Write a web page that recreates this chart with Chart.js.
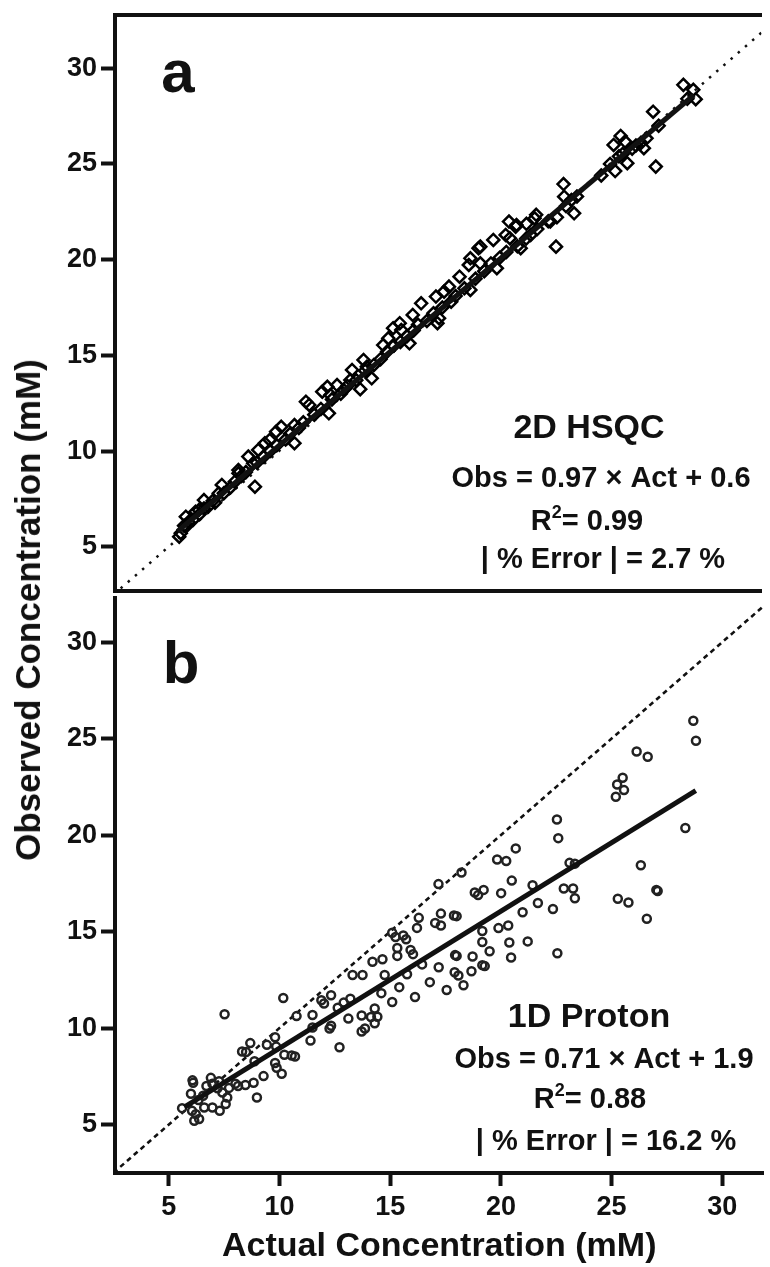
<!DOCTYPE html>
<html>
<head>
<meta charset="utf-8">
<script src="https://cdn.jsdelivr.net/npm/chart.js@4.4.1/dist/chart.umd.min.js"></script>
<style>
  html, body { margin: 0; padding: 0; background: #fff; overflow: hidden; }
  #wrap { position: relative; width: 770px; height: 1267px; }
  #chartA { position: absolute; left: 0; top: 0; }
  #chartB { position: absolute; left: 0; top: 591px; }
  #ytitle {
    position: absolute; left: 28px; top: 610px;
    transform: translate(-50%, -50%) rotate(-90deg);
    white-space: nowrap;
    font: bold 35px "Liberation Sans", Arial, sans-serif;
    color: #111;
  }
</style>
</head>
<body>
<div id="wrap">
  <canvas id="chartA" width="770" height="600"></canvas>
  <canvas id="chartB" width="770" height="676"></canvas>
  <div id="ytitle">Observed Concentration (mM)</div>
</div>
<script>
// tick labels
const xTicks = [5, 10, 15, 20, 25, 30];
const yTicks = [5, 10, 15, 20, 25, 30];

// panel a: 2D HSQC (actual vs observed, mM)
const hsqcActual = [
  28.32, 28.77, 28.88, 26.95, 25.48, 25.16, 25.68, 26.17, 26.65, 26.53, 25.57, 25.78, 25.23, 27.07,
  22.89, 23.25, 23.37, 22.92, 22.55, 22.29, 22.59, 21.65, 21.21, 21.40, 20.42, 20.27, 20.72, 19.71,
  19.12, 19.87, 20.95, 21.58, 20.76, 20.46, 19.04, 19.12, 18.67, 18.60, 18.18, 18.67, 17.70, 17.48,
  17.11, 17.25, 17.18, 16.44, 16.06, 15.47, 15.17, 15.54, 15.91, 14.95, 14.72, 13.83, 13.98, 14.20,
  13.68, 13.31, 13.23, 12.93, 12.19, 11.96, 12.33, 12.63, 12.26, 11.37, 11.22, 10.70, 10.10, 9.87,
  10.70, 9.36, 9.58, 9.06, 8.61, 8.83, 8.16, 8.91, 7.41, 7.27, 6.60, 6.37, 5.78, 5.48, 5.78, 6.22,
  5.55, 8.16,
  5.7, 5.9, 6.1, 6.4, 6.6, 6.8, 7.0, 7.1, 7.5, 7.8, 8.0, 8.3, 8.5, 9.0, 9.3, 9.6, 9.9, 10.3, 10.5,
  10.9, 11.1, 11.6, 11.9, 12.4, 12.8, 13.1, 13.5, 13.9, 14.3, 14.6, 14.9, 15.2, 15.5, 15.8, 16.1,
  16.3, 16.7, 17.0, 17.4, 17.8, 18.0, 18.4, 18.9, 19.3, 19.6, 20.0, 20.3, 20.8, 21.2, 21.7, 22.2,
  23.0, 23.5, 24.6, 25.0, 25.4, 26.0, 26.4, 27.2, 28.5
];
const hsqcObserved = [
  29.13, 28.87, 28.38, 27.73, 26.46, 25.99, 26.17, 25.96, 26.34, 25.82, 25.52, 25.04, 24.63, 24.86,
  23.95, 23.12, 22.42, 23.29, 20.68, 21.99, 22.21, 22.34, 21.87, 21.29, 21.99, 21.29, 21.72, 21.03,
  20.68, 19.55, 20.60, 22.16, 21.81, 21.12, 20.60, 19.81, 20.07, 19.72, 19.11, 18.42, 18.59, 18.33,
  18.07, 16.94, 16.68, 17.72, 17.11, 16.68, 16.42, 16.33, 15.63, 15.89, 15.54, 14.76, 14.41, 13.80,
  13.23, 14.24, 13.71, 13.19, 13.36, 13.10, 12.93, 13.45, 11.97, 12.41, 12.58, 11.36, 11.27, 11.01,
  10.41, 10.41, 10.58, 10.06, 9.71, 9.36, 9.01, 8.14, 8.23, 7.79, 7.44, 6.92, 6.05, 5.53, 6.57, 6.83,
  5.71, 8.84,
  6.1, 6.3, 6.4, 6.7, 7.0, 7.1, 7.4, 7.3, 7.8, 8.1, 8.4, 8.7, 8.9, 9.4, 9.7, 10.0, 10.3, 10.6, 10.9,
  11.2, 11.5, 11.9, 12.2, 12.7, 13.0, 13.4, 13.7, 14.2, 14.5, 14.8, 15.2, 15.5, 15.7, 16.0, 16.3,
  16.6, 16.8, 17.2, 17.5, 17.8, 18.1, 18.5, 19.0, 19.4, 19.8, 20.1, 20.4, 20.7, 21.1, 21.6, 22.0,
  22.8, 23.3, 24.4, 25.0, 25.4, 25.8, 26.1, 27.0, 28.4
];

// panel b: 1D Proton (actual vs observed, mM)
const protonActual = [
  28.69, 28.81, 26.13, 26.63, 25.50, 25.25, 25.56, 25.19, 22.53, 22.59, 28.33, 20.67, 20.24, 19.83,
  23.10, 23.34, 26.32, 20.49, 21.43, 22.84, 23.26, 27.02, 27.08,
  18.22, 18.82, 18.97, 19.22, 20.01, 23.34, 25.28, 25.76, 21.67, 20.98, 22.35, 26.59, 18.00, 19.16,
  19.89, 20.33, 19.16, 19.49, 20.38, 21.21, 18.00, 18.72, 20.46, 22.55, 18.67, 19.16, 19.27, 18.08,
  17.18, 16.29, 17.29, 17.88, 16.21, 17.03, 17.29, 15.09, 15.24, 15.59, 15.72, 15.32, 15.92, 16.03,
  17.93, 14.65, 14.20, 15.32,
  7.52, 10.17, 10.77, 11.49, 11.89, 12.01, 12.33, 12.63, 12.90, 13.20, 13.30, 13.75, 14.75, 14.60,
  11.49, 12.26, 12.33, 11.40, 13.11, 12.71, 13.71, 14.13, 14.42, 14.30, 14.30, 13.71, 13.86, 9.80,
  9.85, 9.43, 8.68, 8.31, 8.49, 10.22, 10.55, 10.70, 8.87, 9.80, 9.87, 10.10, 9.28, 6.90, 6.07,
  8.83, 8.98, 8.01, 8.13, 8.46, 7.72, 6.97, 6.70, 7.27, 6.10, 6.00, 6.34, 6.55, 7.20, 7.42, 7.64,
  6.97, 7.30, 7.57, 6.60, 5.60, 6.05, 6.22, 6.37, 6.15,
  15.09, 15.41, 15.76, 16.12, 16.44, 16.79, 17.19, 17.55, 17.91, 18.31
];
const protonObserved = [
  25.92, 24.89, 24.33, 24.06, 22.97, 22.62, 22.33, 21.99, 20.81, 19.84, 20.37, 19.31, 18.66, 18.73,
  18.56, 18.52, 18.44, 17.64, 17.40, 17.23, 17.23, 17.16, 17.10,
  18.06, 17.02, 16.89, 17.16, 16.99, 16.73, 16.70, 16.51, 16.48, 16.00, 16.17, 15.66, 15.80, 15.03,
  15.18, 15.31, 14.46, 13.98, 14.43, 14.49, 13.74, 13.71, 13.66, 13.88, 12.94, 13.26, 13.21, 12.72,
  17.46, 15.71, 15.93, 15.83, 15.19, 15.45, 15.31, 14.94, 14.72, 14.80, 14.60, 14.15, 14.05, 13.83,
  13.78, 13.57, 13.44, 13.74,
  10.72, 11.56, 10.62, 10.68, 11.44, 11.27, 11.70, 11.05, 11.32, 11.52, 12.75, 12.75, 12.75, 11.81,
  10.03, 9.98, 10.12, 9.35, 10.49, 9.01, 10.65, 10.57, 10.59, 11.01, 10.25, 9.82, 9.98, 9.52,
  9.04, 9.13, 9.22, 8.79, 8.76, 8.62, 8.58, 8.53, 8.28, 8.19, 7.94, 7.63, 7.51, 7.42, 7.29,
  7.17, 6.40, 7.12, 7.00, 7.05, 6.90, 7.12, 7.00, 7.25, 7.17, 6.60, 6.27, 6.49, 6.88, 6.66, 6.40,
  5.88, 5.71, 6.06, 5.88, 5.85, 5.71, 5.54, 5.29, 5.20,
  11.35, 12.12, 12.79, 11.61, 13.30, 12.38, 13.15, 11.97, 12.89, 12.22
];

// fitted lines (end points) and identity lines
const hsqcFit = [[5.4, 5.8], [28.8, 28.6]];
const protonFit = [[5.7, 5.9], [28.8, 22.3]];
const identityA = [[2.5, 2.5], [33, 33]];
const identityB = [[2.5, 2.5], [33, 33]];

const X_MIN = 2.57, X_MAX = 31.86;
const FONT = '"Liberation Sans", Arial, sans-serif';
const INK = '#111';

const toPoints = (xs, ys) => xs.map((x, i) => ({ x: x, y: ys[i] }));
const toLine = (pairs) => pairs.map(p => ({ x: p[0], y: p[1] }));

// draws the panel letters and the fit statistics
const notesPlugin = {
  id: 'notes',
  afterDraw(chart, args, opts) {
    const ctx = chart.ctx;
    ctx.save();
    ctx.fillStyle = INK;
    ctx.textBaseline = 'alphabetic';
    ctx.textAlign = 'left';
    opts.lines.forEach(l => {
      const big = 'bold ' + l.size + 'px ' + FONT;
      ctx.font = big;
      if (l.sup) {
        const small = 'bold ' + Math.round(l.size * 0.62) + 'px ' + FONT;
        const w1 = ctx.measureText(l.text).width;
        const w3 = ctx.measureText(l.after).width;
        ctx.font = small;
        const w2 = ctx.measureText(l.sup).width;
        let x = l.x - (w1 + w2 + w3) / 2;
        ctx.font = big;
        ctx.fillText(l.text, x, l.y);
        x += w1;
        ctx.font = small;
        ctx.fillText(l.sup, x, l.y - l.size * 0.42);
        x += w2;
        ctx.font = big;
        ctx.fillText(l.after, x, l.y);
      } else {
        const w = ctx.measureText(l.text).width;
        ctx.fillText(l.text, l.x - w / 2, l.y);
      }
    });
    ctx.restore();
  }
};

const noPad = (s) => { s.paddingTop = 0; s.paddingBottom = 0; s.paddingLeft = 0; s.paddingRight = 0; };

const yAxis = (min, max) => ({
  type: 'linear',
  position: 'left',
  min: min,
  max: max,
  afterBuildTicks: (s) => { s.ticks = yTicks.map(v => ({ value: v })); },
  afterFit: (s) => { s.width = 115; noPad(s); },
  ticks: { color: INK, padding: 4, font: { family: FONT, size: 27, weight: 'bold' } },
  grid: { display: true, drawOnChartArea: false, drawTicks: true, tickLength: 14, tickWidth: 4, tickColor: INK },
  border: { display: true, width: 4, color: INK }
});

const bareX = (pos, h) => ({
  type: 'linear',
  position: pos,
  min: X_MIN,
  max: X_MAX,
  afterFit: (s) => { s.height = h; noPad(s); },
  ticks: { display: false },
  grid: { display: false },
  border: { display: true, width: 4, color: INK }
});

const common = {
  responsive: false,
  animation: false,
  events: [],
  plugins: { legend: { display: false }, tooltip: { enabled: false } }
};

// panel a
new Chart(document.getElementById('chartA'), {
  type: 'scatter',
  data: {
    datasets: [
      {
        data: toLine(hsqcFit), showLine: true, pointRadius: 0,
        borderColor: INK, borderWidth: 5, order: 0
      },
      {
        data: toPoints(hsqcActual, hsqcObserved), pointStyle: 'rectRot', pointRadius: 6,
        pointBorderWidth: 2.5, borderColor: '#000', backgroundColor: 'rgba(255,255,255,0)', order: 1
      },
      {
        data: toLine(identityA), showLine: true, pointRadius: 0,
        borderColor: INK, borderWidth: 2.5, borderDash: [2.5, 7], order: 2
      }
    ]
  },
  options: {
    ...common,
    layout: { padding: { top: 15, left: 0, right: 0, bottom: 0 } },
    scales: {
      x: bareX('bottom', 9),
      x2: bareX('top', 0),
      y: yAxis(2.69, 32.78)
    },
    plugins: {
      ...common.plugins,
      notes: {
        lines: [
          { text: 'a', x: 178, y: 92, size: 60 },
          { text: '2D HSQC', x: 589, y: 438, size: 34 },
          { text: 'Obs = 0.97 × Act + 0.6', x: 601, y: 487, size: 29 },
          { text: 'R', sup: '2', after: '= 0.99', x: 587, y: 530, size: 29 },
          { text: '| % Error | = 2.7 %', x: 603, y: 568, size: 29 }
        ]
      }
    }
  },
  plugins: [notesPlugin]
});

// panel b
new Chart(document.getElementById('chartB'), {
  type: 'scatter',
  data: {
    datasets: [
      {
        data: toLine(protonFit), showLine: true, pointRadius: 0,
        borderColor: INK, borderWidth: 5, order: 0
      },
      {
        data: toPoints(protonActual, protonObserved), pointStyle: 'circle', pointRadius: 4,
        pointBorderWidth: 2.5, borderColor: '#222', backgroundColor: 'rgba(255,255,255,0)', order: 1
      },
      {
        data: toLine(identityB), showLine: true, pointRadius: 0,
        borderColor: INK, borderWidth: 2.6, borderDash: [5, 4], order: 2
      }
    ]
  },
  options: {
    ...common,
    layout: { padding: 0 },
    scales: {
      x: {
        type: 'linear',
        position: 'bottom',
        min: X_MIN,
        max: X_MAX,
        afterBuildTicks: (s) => { s.ticks = xTicks.map(v => ({ value: v })); },
        afterFit: (s) => { s.height = 94; noPad(s); },
        ticks: { color: INK, padding: 5, maxRotation: 0, font: { family: FONT, size: 27, weight: 'bold' } },
        grid: { display: true, drawOnChartArea: false, drawTicks: true, tickLength: 13, tickWidth: 4, tickColor: INK },
        border: { display: true, width: 4, color: INK },
        title: {
          display: true, text: 'Actual Concentration (mM)', color: INK,
          padding: { top: 0, bottom: 0 }, font: { family: FONT, size: 34, weight: 'bold' }
        }
      },
      y: yAxis(2.49, 32.31)
    },
    plugins: {
      ...common.plugins,
      notes: {
        lines: [
          { text: 'b', x: 181, y: 92, size: 60 },
          { text: '1D Proton', x: 589, y: 436, size: 34 },
          { text: 'Obs = 0.71 × Act + 1.9', x: 604, y: 477, size: 29 },
          { text: 'R', sup: '2', after: '= 0.88', x: 590, y: 517, size: 29 },
          { text: '| % Error | = 16.2 %', x: 606, y: 559, size: 29 }
        ]
      }
    }
  },
  plugins: [notesPlugin]
});
</script>
</body>
</html>
